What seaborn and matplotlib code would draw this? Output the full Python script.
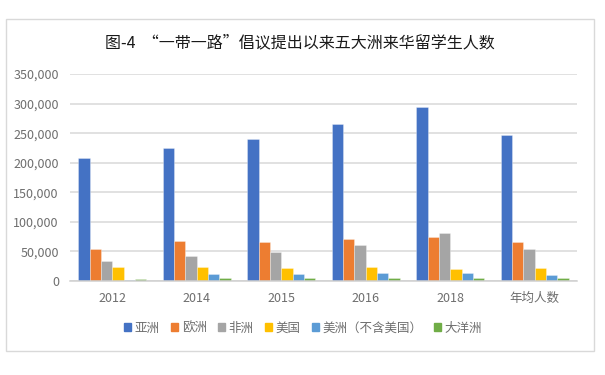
"""
Bar chart: students from five continents studying in China since the Belt and Road initiative.
"""

import numpy as np
import pandas as pd
import matplotlib
matplotlib.use('Agg')
import matplotlib.pyplot as plt
from matplotlib.patches import Rectangle
from matplotlib.ticker import FuncFormatter
import seaborn as sns

# Data
years = ['2012', '2014', '2015', '2016', '2018', '年均人数']
asia = [207555, 225490, 240154, 264976, 295043, 246600]
europe = [54453, 67475, 66746, 71319, 73618, 66700]
africa = [34300, 41677, 49792, 61594, 81562, 54000]
usa = [24200, 24203, 21975, 23838, 20996, 22800]
americas_ex_us = [1700, 11300, 12300, 13500, 13500, 10000]
oceania = [3400, 5000, 5000, 5000, 5000, 5000]

series_names = ['亚洲', '欧洲', '非洲', '美国', '美洲（不含美国）', '大洋洲']
colors = ['#4472C4', '#ED7D31', '#A5A5A5', '#FFC000', '#5B9BD5', '#70AD47']

df = pd.DataFrame({
    'year': years * 6,
    'region': np.repeat(series_names, len(years)),
    'count': asia + europe + africa + usa + americas_ex_us + oceania,
})

sns.set_theme(style='white')
plt.rcParams['font.family'] = ['Noto Sans CJK SC', 'DejaVu Sans']

fig = plt.figure(figsize=(6.05, 3.75), dpi=100)
ax = fig.add_axes([70 / 605, 1 - 281 / 375, 507 / 605, 207 / 375])

# Outer chart frame
fig.patches.append(Rectangle((6 / 605, 1 - 351 / 375), 588 / 605, 332 / 375,
                             transform=fig.transFigure, fill=False,
                             edgecolor='#d9d9d9', linewidth=1.0))

sns.barplot(data=df, x='year', y='count', hue='region', hue_order=series_names,
            palette=colors, width=0.8, saturation=1, linewidth=0.6,
            edgecolor=(1, 1, 1, 0.35), ax=ax, legend=False)

ax.set_ylim(0, 350000)
ax.set_yticks(np.arange(0, 350001, 50000))
ax.yaxis.set_major_formatter(FuncFormatter(lambda v, p: f'{int(v):,}'))
ax.set_xlim(-0.5, len(years) - 0.5)
ax.grid(axis='y', color='#d9d9d9', linewidth=1.1)
ax.set_axisbelow(True)
ax.set_xlabel('')
ax.set_ylabel('')
for side in ['top', 'right', 'left']:
    ax.spines[side].set_visible(False)
ax.spines['bottom'].set_color('#d0d0d0')
ax.spines['bottom'].set_linewidth(1.1)
ax.tick_params(axis='both', length=0, labelsize=9, colors='#6e6e6e')
ax.tick_params(axis='x', pad=8)
ax.tick_params(axis='y', pad=8)

fig.text(300 / 605, 1 - 43 / 375, '图-4  “一带一路”倡议提出以来五大洲来华留学生人数',
         ha='center', va='center', fontsize=11.5, fontweight='medium', color='#1a1a1a')

handles = [Rectangle((0, 0), 1, 1, color=c) for c in colors]
fig.legend(handles, series_names, loc='center', bbox_to_anchor=(303 / 605, 1 - 328 / 375),
           ncol=6, frameon=False, fontsize=9, handlelength=0.55, handleheight=0.55,
           handletextpad=0.3, columnspacing=0.9, labelcolor='#6e6e6e')

fig.savefig('out.png', dpi=100)
